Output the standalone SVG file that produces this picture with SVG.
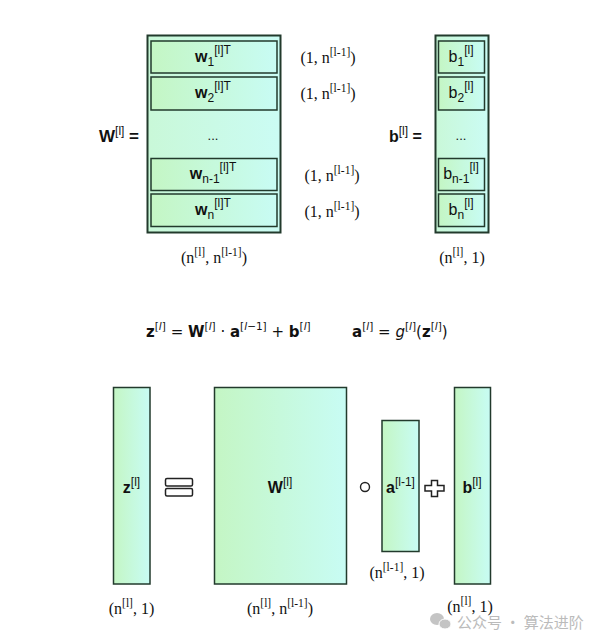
<svg xmlns="http://www.w3.org/2000/svg" width="609" height="644" viewBox="0 0 609 644">
<defs>
<linearGradient id="g" x1="0" y1="0" x2="1" y2="0">
<stop offset="0" stop-color="#c4f6c4"/>
<stop offset="1" stop-color="#c8fcf4"/>
</linearGradient>
<linearGradient id="go" x1="0" y1="0" x2="1" y2="0">
<stop offset="0" stop-color="#c9f8d8"/>
<stop offset="1" stop-color="#cbfcf4"/>
</linearGradient>
<style>
.box{fill:url(#g);stroke:#223a2c;stroke-width:1.5}
.outer{fill:url(#go);stroke:#223a2c;stroke-width:2}
.lab{font-family:"Liberation Sans",Arial,sans-serif;font-size:16px;fill:#111;font-weight:bold}
.reg{font-weight:normal}
.sm{font-weight:normal;font-size:12px}
.dim{font-family:"Liberation Serif","Times New Roman",serif;font-size:16px;fill:#111}
.dsup{font-size:11.5px}
.eq{font-family:"DejaVu Sans",sans-serif;font-size:15px;fill:#111}
.b{font-weight:bold}
.it{font-style:italic;font-weight:normal}
.es{font-size:10.5px}
.sym{fill:#fff;stroke:#222;stroke-width:1.5}
.wm{font-family:"Noto Sans CJK SC",sans-serif;font-size:15px;fill:#bbb}
</style>
</defs>
<rect width="609" height="644" fill="#fff"/>

<g id="W-matrix">
<rect class="outer" x="147.5" y="35.5" width="133" height="197"/>
<text class="lab" x="99" y="142" style="font-size:17px">W<tspan class="sm" dy="-7">[l]</tspan><tspan dy="7"> =</tspan></text>
<g id="w1"><rect class="box" x="151" y="41" width="126" height="32"/>
<text class="lab" x="213" y="62" text-anchor="middle">w<tspan class="sm" dy="4">1</tspan><tspan class="sm" dy="-12">[l]T</tspan></text></g>
<g id="w2"><rect class="box" x="151" y="77" width="126" height="33"/>
<text class="lab" x="213" y="98" text-anchor="middle">w<tspan class="sm" dy="4">2</tspan><tspan class="sm" dy="-12">[l]T</tspan></text></g>
<text class="lab reg" x="213" y="140" text-anchor="middle" style="font-size:13px">...</text>
<g id="wn1"><rect class="box" x="151" y="158.5" width="126" height="32"/>
<text class="lab" x="213" y="179" text-anchor="middle">w<tspan class="sm" dy="4">n-1</tspan><tspan class="sm" dy="-12">[l]T</tspan></text></g>
<g id="wn"><rect class="box" x="151" y="194" width="126" height="32.5"/>
<text class="lab" x="213" y="215" text-anchor="middle">w<tspan class="sm" dy="4">n</tspan><tspan class="sm" dy="-12">[l]T</tspan></text></g>
<text class="dim" x="214" y="263" text-anchor="middle">(n<tspan class="dsup" dy="-7">[l]</tspan><tspan dy="7">, n</tspan><tspan class="dsup" dy="-7">[l-1]</tspan><tspan dy="7">)</tspan></text>
</g>

<g id="row-dims">
<text class="dim" x="328" y="63" text-anchor="middle">(1, n<tspan class="dsup" dy="-7">[l-1]</tspan><tspan dy="7">)</tspan></text>
<text class="dim" x="328" y="99" text-anchor="middle">(1, n<tspan class="dsup" dy="-7">[l-1]</tspan><tspan dy="7">)</tspan></text>
<text class="dim" x="332" y="181" text-anchor="middle">(1, n<tspan class="dsup" dy="-7">[l-1]</tspan><tspan dy="7">)</tspan></text>
<text class="dim" x="332" y="217" text-anchor="middle">(1, n<tspan class="dsup" dy="-7">[l-1]</tspan><tspan dy="7">)</tspan></text>
</g>

<g id="b-vector">
<rect class="outer" x="435.5" y="35.5" width="53" height="197"/>
<text class="lab" x="389" y="142">b<tspan class="sm" dy="-7">[l]</tspan><tspan dy="7"> =</tspan></text>
<g id="b1"><rect class="box" x="438.5" y="41" width="46" height="32"/>
<text class="lab reg" x="461" y="62" text-anchor="middle">b<tspan class="sm" dy="4">1</tspan><tspan class="sm" dy="-12">[l]</tspan></text></g>
<g id="b2"><rect class="box" x="438.5" y="77" width="46" height="33"/>
<text class="lab reg" x="461" y="98" text-anchor="middle">b<tspan class="sm" dy="4">2</tspan><tspan class="sm" dy="-12">[l]</tspan></text></g>
<text class="lab reg" x="461" y="140" text-anchor="middle" style="font-size:13px">...</text>
<g id="bn1"><rect class="box" x="438.5" y="158.5" width="46" height="32"/>
<text class="lab reg" x="461" y="179" text-anchor="middle">b<tspan class="sm" dy="4">n-1</tspan><tspan class="sm" dy="-12">[l]</tspan></text></g>
<g id="bn"><rect class="box" x="438.5" y="194" width="46" height="32.5"/>
<text class="lab reg" x="461" y="215" text-anchor="middle">b<tspan class="sm" dy="4">n</tspan><tspan class="sm" dy="-12">[l]</tspan></text></g>
<text class="dim" x="462" y="263" text-anchor="middle">(n<tspan class="dsup" dy="-7">[l]</tspan><tspan dy="7">, 1)</tspan></text>
</g>

<g id="equations">
<text class="eq" x="146" y="337"><tspan class="b">z</tspan><tspan class="es" dy="-7">[<tspan class="it">l</tspan>]</tspan><tspan dy="7"> = </tspan><tspan class="b">W</tspan><tspan class="es" dy="-7">[<tspan class="it">l</tspan>]</tspan><tspan dy="7"> · </tspan><tspan class="b">a</tspan><tspan class="es" dy="-7">[<tspan class="it">l</tspan>−1]</tspan><tspan dy="7"> + </tspan><tspan class="b">b</tspan><tspan class="es" dy="-7">[<tspan class="it">l</tspan>]</tspan></text>
<text class="eq" x="352" y="337"><tspan class="b">a</tspan><tspan class="es" dy="-7">[<tspan class="it">l</tspan>]</tspan><tspan dy="7"> = </tspan><tspan class="it">g</tspan><tspan class="es" dy="-7">[<tspan class="it">l</tspan>]</tspan><tspan dy="7">(</tspan><tspan class="b">z</tspan><tspan class="es" dy="-7">[<tspan class="it">l</tspan>]</tspan><tspan dy="7">)</tspan></text>
</g>

<g id="z-vec">
<rect class="box" x="113.5" y="387.5" width="36.5" height="196.5"/>
<text class="lab" x="131.5" y="493" text-anchor="middle">z<tspan class="sm" dy="-7">[l]</tspan></text>
<text class="dim" x="131.5" y="614" text-anchor="middle">(n<tspan class="dsup" dy="-7">[l]</tspan><tspan dy="7">, 1)</tspan></text>
</g>

<g id="equals-sign">
<rect class="sym" x="165.5" y="478.5" width="27" height="7.5" rx="1.5"/>
<rect class="sym" x="165.5" y="488.5" width="27" height="7.5" rx="1.5"/>
</g>

<g id="W-big">
<rect class="box" x="214.5" y="387.5" width="132" height="196.5"/>
<text class="lab" x="280" y="493" text-anchor="middle">W<tspan class="sm" dy="-7">[l]</tspan></text>
<text class="dim" x="280" y="614" text-anchor="middle">(n<tspan class="dsup" dy="-7">[l]</tspan><tspan dy="7">, n</tspan><tspan class="dsup" dy="-7">[l-1]</tspan><tspan dy="7">)</tspan></text>
</g>

<g id="dot-op">
<circle cx="365" cy="487" r="4.5" fill="#fff" stroke="#222" stroke-width="1.4"/>
</g>

<g id="a-vec">
<rect class="box" x="382" y="420.5" width="37" height="131"/>
<text class="lab" x="400.5" y="493" text-anchor="middle">a<tspan class="sm" dy="-7">[l-1]</tspan></text>
<text class="dim" x="397" y="578" text-anchor="middle">(n<tspan class="dsup" dy="-7">[l-1]</tspan><tspan dy="7">, 1)</tspan></text>
</g>

<g id="plus-sign">
<polygon class="sym" points="431.5,480.5 437.5,480.5 437.5,485.5 444,485.5 444,491 437.5,491 437.5,496.5 431.5,496.5 431.5,491 425,491 425,485.5 431.5,485.5"/>
</g>

<g id="b-big">
<rect class="box" x="454.5" y="387.5" width="36" height="196.5"/>
<text class="lab" x="472" y="493" text-anchor="middle">b<tspan class="sm" dy="-7">[l]</tspan></text>
<text class="dim" x="470" y="612" text-anchor="middle">(n<tspan class="dsup" dy="-7">[l]</tspan><tspan dy="7">, 1)</tspan></text>
</g>

<g id="watermark">
<ellipse cx="437" cy="619" rx="7" ry="6" fill="#c4c4c4"/>
<ellipse cx="445" cy="624" rx="6" ry="5" fill="#c4c4c4" stroke="#fff" stroke-width="1"/>
<text class="wm" x="457" y="628">公众号 · 算法进阶</text>
</g>
</svg>
